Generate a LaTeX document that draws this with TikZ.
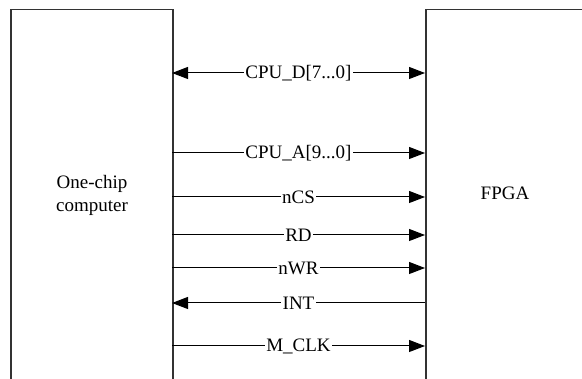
\documentclass[tikz,border=0pt]{standalone}
\usepackage{fontspec}
\setmainfont{Liberation Serif}
\usetikzlibrary{arrows.meta}
\tikzset{
  chip/.style={draw=black!80, line width=1.5pt, fill=none, inner sep=0pt},
  tip/.style={Triangle[length=16pt,width=12pt]},
  sig/.style={draw=black, line width=1pt, -{Triangle[length=16pt,width=12pt]}},
  sigback/.style={draw=black, line width=1pt, {Triangle[length=16pt,width=12pt]}-},
  sigboth/.style={draw=black, line width=1pt, {Triangle[length=16pt,width=12pt]}-{Triangle[length=16pt,width=12pt]}},
  siglabel/.style={fill=white, inner xsep=1.2pt, inner ysep=0pt, font=\fontsize{19}{21}\selectfont},
  boxtext/.style={align=center, font=\fontsize{19}{23}\selectfont}
}
\begin{document}
\begin{tikzpicture}[x=1pt, y=-1pt]
  \clip (0,0) rectangle (582,379);
  \fill[white] (0,0) rectangle (582,379);
  % the two chips, running past the lower and right borders
  \node[chip, minimum width=162pt, minimum height=420pt, anchor=north west] (mcu) at (10,9) {};
  \node[chip, minimum width=200pt, minimum height=420pt, anchor=north west] (fpga) at (425,9) {};
  \node[boxtext] (mcutext) at (92,195) {One-chip\\computer};
  \node[boxtext] (fpgatext) at (505,193) {FPGA};
  % bus and control lines
  \coordinate (d0) at (172,73);   \coordinate (d1) at (425,73);
  \coordinate (a0) at (172,153);  \coordinate (a1) at (425,153);
  \coordinate (c0) at (172,197);  \coordinate (c1) at (425,197);
  \coordinate (r0) at (172,235);  \coordinate (r1) at (425,235);
  \coordinate (w0) at (172,268);  \coordinate (w1) at (425,268);
  \coordinate (i0) at (172,303);  \coordinate (i1) at (425,303);
  \coordinate (k0) at (172,346);  \coordinate (k1) at (425,346);
  \draw[sigboth] (d0) -- node[siglabel] {CPU\_D[7...0]} (d1);
  \draw[sig] (a0) -- node[siglabel] {CPU\_A[9...0]} (a1);
  \draw[sig] (c0) -- node[siglabel] {nCS} (c1);
  \draw[sig] (r0) -- node[siglabel] {RD} (r1);
  \draw[sig] (w0) -- node[siglabel] {nWR} (w1);
  \draw[sigback] (i0) -- node[siglabel] {INT} (i1);
  \draw[sig] (k0) -- node[siglabel] {M\_CLK} (k1);
\end{tikzpicture}
\end{document}
